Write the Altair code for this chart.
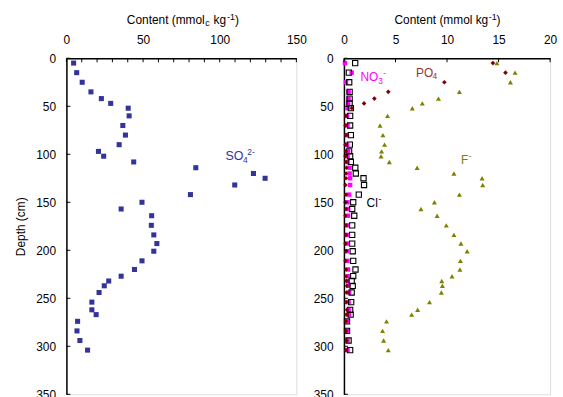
import altair as alt
import pandas as pd

# ---------------- data ----------------
depth = [5, 15, 25, 35, 42, 47, 52, 60, 70, 80, 90, 97, 102, 108, 114, 120, 125, 132, 142, 150,
         157, 164, 174, 184, 193, 201, 211, 220, 227, 232, 237, 244, 254, 262, 267, 274, 284, 294, 304]
so4 = [4.7, 6.7, 10.3, 16, 22.8, 28.9, 40.3, 40.9, 36.8, 38.5, 34.4, 20.9, 24.3, 43.9, 84.4, 122, 129.6, 109.8, 80.9, 49.3,
       35.7, 55.6, 55.4, 57, 59, 57, 49.3, 44.4, 35.7, 27.6, 24.7, 21.3, 16.6, 16.6, 19.4, 7.3, 6.9, 8.8, 13.8]
cl = [1.09, 0.48, 0.51, 0.55, 0.55, 0.55, 0.67, 0.6, 0.6, 0.67, 0.57, 0.5, 0.6, 0.67, 1.1, 1.15, 1.9, 1.95, 1.44, 0.9,
      0.8, 1.0, 0.8, 0.8, 0.8, 0.85, 0.9, 1.12, 0.9, 0.75, 0.85, 0.75, 0.7, 0.6, 0.65, 0.3, 0.3, 0.45, 0.6]
no3 = [0.1, 0.75, 0.2, 0.45, 0.45, 0.4, 0.35, 0.3, 0.35, 0.3, 0.3, 0.4, 0.35, 0.35, 0.55, 0.55, 0.6, 0.6, 0.5, 0.35,
       0.4, 0.4, 0.35, 0.3, 0.35, 0.3, 0.35, 0.4, 0.45, 0.35, 0.4, 0.5, 0.45, 0.45, 0.5, 0.3, 0.3, 0.35, 0.35]
po4 = [14.45, 15.67, 9.74, 4.3, 2.95, 1.95, 0.77, 0.2, 0.15, 0.2, 0.15, 0.2, 0.15, 0.2, 0.25, 0.2, 0.2, 0.15, 0.2, 0.15,
       0.2, 0.15, 0.2, 0.2, 0.15, 0.2, 0.15, 0.2, 0.2, 0.25, 0.3, 0.25, 0.2, 0.3, 0.25, 0.2, 0.2, 0.25, 0.2]
fl = [14.84, 16.6, 16.15, 11.2, 9.17, 7.6, 6.63, 4.23, 3.5, 3.78, 3.94, 3.65, 3.6, 4.4, 7.1, 10.67, 13.4, 13.46, 11.2, 8.78,
      7.47, 9.04, 9.93, 10.67, 11.35, 11.95, 11.3, 11.25, 10.48, 9.49, 9.55, 9.45, 8.3, 7.15, 6.57, 4.13, 3.75, 3.85, 4.3]

left_labels = [0, 50, 100, 150]
left_ticks = [0, 10, 20, 30, 40, 50, 60, 70, 80, 90, 100, 110, 120, 130, 140, 150]
right_labels = [0, 5, 10, 15, 20]
depth_ticks = [0, 50, 100, 150, 200, 250, 300, 350]

# annotation anchors (value, depth)
ann_so4 = (103.8, 106)
ann_no3 = (1.6, 24)
ann_po4 = (7.0, 19)
ann_f = (11.35, 110)
ann_cl = (2.2, 155)

df = pd.DataFrame({"depth": depth, "so4": so4, "cl": cl, "no3": no3, "po4": po4, "f": fl})

FONT = "Liberation Sans"
W_L, W_R, H = 232, 208, 339

ysc = alt.Scale(domain=[0, 350], reverse=True, nice=False, zero=False)


def y_axis(show_title):
    return alt.Axis(values=depth_ticks, ticks=False, labelPadding=11, grid=False,
                    title="Depth (cm)" if show_title else None, titlePadding=8,
                    labelFontSize=12, titleFontSize=12, titleFontWeight="normal",
                    labelFont=FONT, titleFont=FONT, labelColor="black", titleColor="black",
                    domainColor="black", domainWidth=1.5)


def x_axis(labels):
    return alt.Axis(orient="top", values=labels, ticks=False, labelPadding=12, grid=False,
                    title=None, labelFontSize=12, labelFont=FONT, labelColor="black",
                    domainColor="black", domainWidth=1.5, labelFlush=False)


def make_panel(xsc, xlabels, xticks, show_ytitle):
    def X(field):
        return alt.X(field + ":Q", scale=xsc, axis=x_axis(xlabels))

    def Y(field):
        return alt.Y(field + ":Q", scale=ysc, axis=y_axis(show_ytitle))

    def ticks():
        tx = pd.DataFrame({"v": xticks})
        ty = pd.DataFrame({"d": depth_ticks})
        top = alt.Chart(tx).mark_rule(color="black", strokeWidth=1).encode(
            x=X("v"), y=alt.value(0), y2=alt.value(4))
        left = alt.Chart(ty).mark_rule(color="black", strokeWidth=1).encode(
            y=Y("d"), x=alt.value(0), x2=alt.value(4))
        return [top, left]

    def rich_text(anchor, parts, color):
        d = pd.DataFrame({"x": [anchor[0]], "depth": [anchor[1]]})
        layers = []
        for txt, dx, dy, size in parts:
            layers.append(alt.Chart(d).mark_text(text=txt, align="left", baseline="alphabetic", dx=dx, dy=dy,
                                                 fontSize=size, font=FONT, color=color).encode(
                x=X("x"), y=Y("depth")))
        return layers

    return X, Y, ticks, rich_text


def title_layers(parts):
    d = pd.DataFrame({"k": [0]})
    layers = []
    for txt, x, dy, size in parts:
        layers.append(alt.Chart(d).mark_text(text=txt, align="left", baseline="alphabetic",
                                             fontSize=size, font=FONT, color="black").encode(
            x=alt.value(x), y=alt.value(-35 + dy)))
    return layers


# ---------------- left panel ----------------
xl = alt.Scale(domain=[0, 150], nice=False, zero=False)
XL, YL, ticksL, textL = make_panel(xl, left_labels, left_ticks, True)
so4_pts = alt.Chart(df).mark_square(size=26, color="#333399", opacity=1).encode(x=XL("so4"), y=YL("depth"))

left_layers = [so4_pts] + ticksL()
left_layers += textL(ann_so4, [("SO", 0, 0, 12.5), ("4", 17.5, 3, 8.5), ("2-", 22, -5, 8.5)], "#333399")
left_layers += title_layers([("Content (mmol", 61, 0, 12), ("c", 140, 2, 9), ("kg", 148.5, 0, 12),
                             ("-1", 162, -4, 9), (")", 170, 0, 12)])
left = alt.layer(*left_layers).properties(width=W_L, height=H)

# ---------------- right panel ----------------
xr = alt.Scale(domain=[0, 20], nice=False, zero=False)
XR, YR, ticksR, textR = make_panel(xr, right_labels, right_labels, False)
no3_pts = alt.Chart(df).mark_square(size=20, color="#FF00FF", opacity=1).encode(x=XR("no3"), y=YR("depth"))
cl_pts = alt.Chart(df).mark_point(shape="square", size=28, color="black", strokeWidth=1.1, filled=False,
                                  opacity=1).encode(x=XR("cl"), y=YR("depth"))
po4_pts = alt.Chart(df).mark_point(shape="diamond", size=22, color="#800000", filled=True, opacity=1).encode(
    x=XR("po4"), y=YR("depth"))
f_pts = alt.Chart(df).mark_point(shape="triangle-up", size=26, color="#808000", filled=True, opacity=1).encode(
    x=XR("f"), y=YR("depth"))

right_layers = [no3_pts, cl_pts, po4_pts, f_pts] + ticksR()
right_layers += textR(ann_no3, [("NO", 0, 0, 12), ("3", 18, 3, 8.5), ("-", 23, -5, 8.5)], "#FF00FF")
right_layers += textR(ann_po4, [("PO", 0, 0, 12), ("4", 16.5, 3, 8.5)], "#993333")
right_layers += textR(ann_f, [("F", 0, 0, 12), ("-", 7.5, -5, 8.5)], "#808000")
right_layers += textR(ann_cl, [("Cl", 0, 0, 12), ("-", 12, -5, 8.5)], "black")
right_layers += title_layers([("Content (mmol kg", 51, 0, 12), ("-1", 146, -4, 9), (")", 154, 0, 12)])
right = alt.layer(*right_layers).properties(width=W_R, height=H)

chart = alt.hconcat(left, right, spacing=5).properties(
    padding={"left": 14, "top": 10, "right": 5, "bottom": 0}
).configure_view(stroke="black", strokeWidth=1.5).configure(background="white")

chart.save("out.html", embed_options={"renderer": "svg", "actions": False})
